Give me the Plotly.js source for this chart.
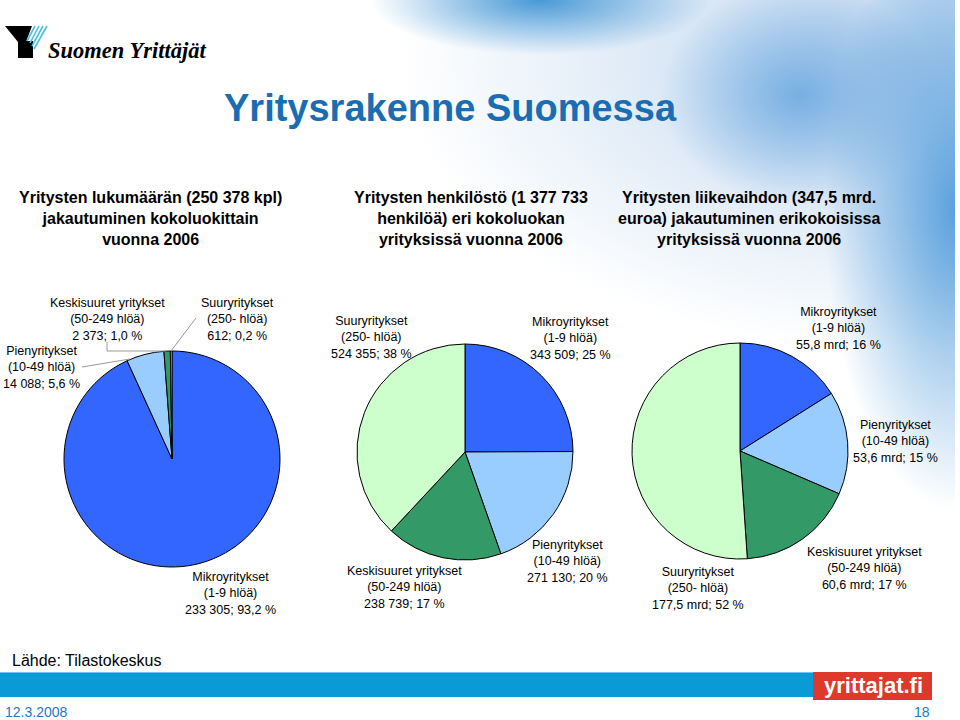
<!DOCTYPE html>
<html><head><meta charset="utf-8">
<script src="https://cdn.plot.ly/plotly-3.0.1.min.js"></script>
<style>
html,body{margin:0;padding:0;width:960px;height:720px;overflow:hidden;background:#fff;}
#bg{position:absolute;left:0;top:0;width:955px;height:720px;
background:
 radial-gradient(ellipse 170px 55px at 540px 0px, rgba(30,130,205,0.8), rgba(30,130,205,0) 100%),
 radial-gradient(ellipse 140px 110px at 800px 95px, rgba(110,170,225,0.9), rgba(110,170,225,0) 100%),
 radial-gradient(ellipse 130px 300px at 955px 210px, rgba(85,158,220,0.95), rgba(85,158,220,0) 100%),
 radial-gradient(ellipse 500px 290px at 900px 60px, rgba(188,212,238,1), rgba(188,212,238,0) 100%),
 #ffffff;}
#chart{position:absolute;left:0;top:0;width:960px;height:720px;}
#logo{position:absolute;left:0;top:0;}
</style></head><body>
<div id="bg"></div>
<svg id="logo" width="60" height="70" viewBox="0 0 60 70">
  <polygon points="5,26 32,26 26,42 18,42" fill="#000"/>
  <rect x="18" y="41" width="15" height="17" fill="#000"/>
  <g stroke="#4cc0e0" stroke-width="1.6">
    <line x1="35" y1="26" x2="27" y2="41"/>
    <line x1="39" y1="26" x2="30" y2="43"/>
    <line x1="43" y1="26" x2="32" y2="46"/>
    <line x1="47" y1="26" x2="34" y2="49"/>
  </g>
</svg>
<div id="chart"></div>
<script>
// ---- data ----
const categories = ["Mikroyritykset", "Pienyritykset", "Keskisuuret yritykset", "Suuryritykset"];
const sizeRanges = ["(1-9 hlöä)", "(10-49 hlöä)", "(50-249 hlöä)", "(250- hlöä)"];
const companyCounts = [233305, 14088, 2373, 612];
const companyPct = [93.2, 5.6, 1.0, 0.2];
const personnel = [343509, 271130, 238739, 524355];
const personnelPct = [25, 20, 17, 38];
const turnoverMrd = [55.8, 53.6, 60.6, 177.5];
const turnoverPct = [16, 15, 17, 52];
const pieTitles = [
  "Yritysten lukumäärän (250 378 kpl)<br>jakautuminen kokoluokittain<br>vuonna 2006",
  "Yritysten henkilöstö (1 377 733<br>henkilöä) eri kokoluokan<br>yrityksissä vuonna 2006",
  "Yritysten liikevaihdon (347,5 mrd.<br>euroa) jakautuminen erikokoisissa<br>yrityksissä vuonna 2006"
];
const mainTitle = "Yritysrakenne Suomessa";
const sourceText = "Lähde: Tilastokeskus";
const dateText = "12.3.2008";
const pageText = "18";
const siteText = "yrittajat.fi";

// ---- styles / layout ----
const sliceColors = ["#3366FF", "#99CCFF", "#339966", "#CCFFCC"];
const W = 960, H = 720;
const px = x => x / W, py = y => 1 - y / H;
const fmtInt = n => String(n).replace(/\B(?=(\d{3})+(?!\d))/g, " ");
const fmtDec = n => n.toFixed(1).replace(".", ",");

const pieDomains = [
  {x: [px(64), px(280)], y: [py(567), py(351)]},
  {x: [px(357), px(573)], y: [py(560), py(344)]},
  {x: [px(632), px(848)], y: [py(559), py(343)]}
];
const valueSets = [companyCounts, personnel, turnoverMrd];
const traces = valueSets.map((vals, i) => ({
  type: "pie",
  values: vals,
  labels: categories,
  sort: false,
  direction: "clockwise",
  rotation: 0,
  textinfo: "none",
  hoverinfo: "label+value",
  domain: pieDomains[i],
  marker: {colors: sliceColors, line: {color: "#000000", width: 1}}
}));

const valueTexts = [
  companyCounts.map((v, k) => fmtInt(v) + "; " + fmtDec(companyPct[k]) + " %"),
  personnel.map((v, k) => fmtInt(v) + "; " + personnelPct[k] + " %"),
  turnoverMrd.map((v, k) => fmtDec(v) + " mrd; " + turnoverPct[k] + " %")
];
const labelPos = [
  [[230, 593], [41, 367], [107, 319], [237, 319]],
  [[570, 338], [567, 561], [404, 587], [371, 337]],
  [[838, 329], [895, 441], [864, 568], [698, 588]]
];
const annotations = [];
const lblFont = {family: "Liberation Sans, Arial, sans-serif", size: 12.5, color: "#000"};
valueTexts.forEach((arr, i) => {
  arr.forEach((t, k) => {
    annotations.push({
      xref: "paper", yref: "paper", x: px(labelPos[i][k][0]), y: py(labelPos[i][k][1]),
      xanchor: "center", yanchor: "middle", align: "center", showarrow: false,
      text: categories[k] + "<br>" + sizeRanges[k] + "<br>" + t, font: lblFont
    });
  });
});
const titleX = [150, 471, 749];
pieTitles.forEach((t, i) => annotations.push({
  xref: "paper", yref: "paper", x: px(titleX[i]), y: py(218), xanchor: "center", yanchor: "middle",
  align: "center", showarrow: false, text: "<b>" + t + "</b>",
  font: {family: "Liberation Sans, Arial, sans-serif", size: 16, color: "#000"}
}));
annotations.push({
  xref: "paper", yref: "paper", x: px(450), y: py(108), xanchor: "center", yanchor: "middle",
  showarrow: false, text: "<b>" + mainTitle + "</b>",
  font: {family: "Liberation Sans, Arial, sans-serif", size: 38, color: "#1B6DB3"}
});
annotations.push({
  xref: "paper", yref: "paper", x: px(46), y: py(51), xanchor: "left", yanchor: "middle",
  showarrow: false, text: "<b><i>Suomen Yrittäjät</i></b>",
  font: {family: "Liberation Serif, DejaVu Serif, serif", size: 22.5, color: "#000"}
});
annotations.push({
  xref: "paper", yref: "paper", x: px(10), y: py(660), xanchor: "left", yanchor: "middle",
  showarrow: false, text: sourceText,
  font: {family: "Liberation Sans, Arial, sans-serif", size: 16, color: "#000"}
});
annotations.push({
  xref: "paper", yref: "paper", x: px(3), y: py(712), xanchor: "left", yanchor: "middle",
  showarrow: false, text: dateText,
  font: {family: "Liberation Sans, Arial, sans-serif", size: 14, color: "#1F78C1"}
});
annotations.push({
  xref: "paper", yref: "paper", x: px(932), y: py(712), xanchor: "right", yanchor: "middle",
  showarrow: false, text: pageText,
  font: {family: "Liberation Sans, Arial, sans-serif", size: 14, color: "#1F78C1"}
});
annotations.push({
  xref: "paper", yref: "paper", x: px(873), y: py(685), xanchor: "center", yanchor: "middle",
  showarrow: false, text: "<b>" + siteText + "</b>",
  font: {family: "Liberation Sans Narrow, Arial Narrow, Liberation Sans, sans-serif", size: 22, color: "#ffffff"}
});

const seg = (x0, y0, x1, y1) => ({type: "line", xref: "paper", yref: "paper",
  x0: px(x0), y0: py(y0), x1: px(x1), y1: py(y1), line: {color: "#999999", width: 1}});
const shapes = [
  {type: "rect", xref: "paper", yref: "paper", x0: 0, x1: px(813), y0: py(697), y1: py(672),
   fillcolor: "#0A9AD6", line: {width: 0}, layer: "below"},
  {type: "rect", xref: "paper", yref: "paper", x0: 0, x1: px(813), y0: py(673), y1: py(672),
   fillcolor: "#6cc8ee", line: {width: 0}, layer: "below"},
  {type: "rect", xref: "paper", yref: "paper", x0: px(813), x1: px(932), y0: py(700), y1: py(672),
   fillcolor: "#DD3A2C", line: {width: 0}, layer: "below"},
  seg(82, 367, 130, 359),
  seg(107, 342, 107, 351), seg(107, 351, 166, 351),
  seg(196, 318, 171, 351)
];

Plotly.newPlot("chart", traces, {
  width: W, height: H, margin: {l: 0, r: 0, t: 0, b: 0},
  paper_bgcolor: "rgba(0,0,0,0)", plot_bgcolor: "rgba(0,0,0,0)",
  showlegend: false, annotations: annotations, shapes: shapes
}, {displayModeBar: false, staticPlot: true});
</script>
</body></html>
